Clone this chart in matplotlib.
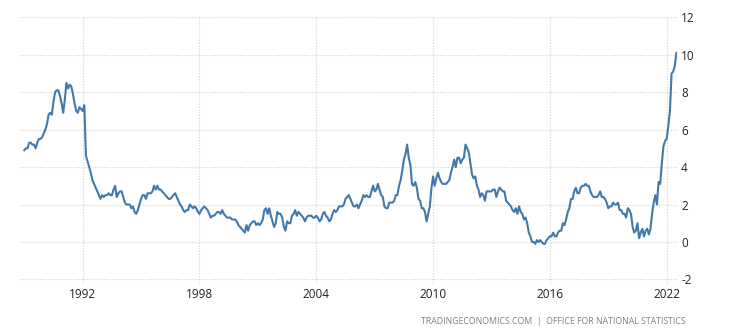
import numpy as np
import matplotlib
matplotlib.use("Agg")
import matplotlib.pyplot as plt

plt.rcParams["font.family"] = ["Open Sans", "DejaVu Sans"]

# UK CPI inflation rate, monthly, Jan 1989 - Jul 2022 (%)
start_year = 1989
cpi_by_year = {
    1989: [4.9, 5.0, 5.0, 5.3, 5.3, 5.2, 5.2, 5.0, 5.3, 5.5, 5.5, 5.6],
    1990: [5.8, 6.0, 6.3, 6.8, 6.9, 6.8, 7.5, 8.0, 8.1, 8.1, 7.8, 7.4],
    1991: [6.9, 7.6, 8.5, 8.2, 8.4, 8.3, 7.9, 7.4, 7.0, 6.9, 7.2, 7.1],
    1992: [7.0, 7.3, 4.6, 4.3, 4.0, 3.7, 3.3, 3.1, 2.9, 2.7, 2.5, 2.3],
    1993: [2.5, 2.4, 2.5, 2.5, 2.6, 2.5, 2.5, 2.8, 3.0, 2.4, 2.6, 2.7],
    1994: [2.7, 2.4, 2.1, 2.0, 2.0, 2.0, 1.8, 1.9, 1.6, 1.5, 1.7, 2.0],
    1995: [2.3, 2.5, 2.5, 2.3, 2.6, 2.6, 2.6, 2.7, 3.0, 2.8, 3.0, 2.8],
    1996: [2.8, 2.7, 2.6, 2.5, 2.4, 2.3, 2.3, 2.4, 2.5, 2.6, 2.4, 2.2],
    1997: [2.0, 1.9, 1.7, 1.6, 1.7, 1.7, 2.0, 1.9, 1.8, 1.9, 1.8, 1.6],
    1998: [1.5, 1.7, 1.8, 1.9, 1.8, 1.7, 1.5, 1.3, 1.4, 1.4, 1.5, 1.6],
    1999: [1.6, 1.5, 1.7, 1.5, 1.4, 1.3, 1.3, 1.3, 1.2, 1.2, 1.2, 1.1],
    2000: [0.9, 0.8, 0.7, 0.6, 0.5, 0.9, 0.6, 0.9, 1.0, 1.1, 1.1, 0.9],
    2001: [1.0, 0.9, 1.0, 1.2, 1.7, 1.8, 1.5, 1.8, 1.4, 1.1, 0.8, 1.0],
    2002: [1.6, 1.5, 1.5, 1.3, 0.8, 0.6, 1.1, 1.0, 1.0, 1.4, 1.5, 1.7],
    2003: [1.4, 1.6, 1.5, 1.4, 1.3, 1.1, 1.3, 1.4, 1.4, 1.4, 1.3, 1.3],
    2004: [1.4, 1.3, 1.1, 1.2, 1.5, 1.6, 1.4, 1.3, 1.1, 1.2, 1.5, 1.7],
    2005: [1.6, 1.7, 1.9, 1.9, 1.9, 2.0, 2.3, 2.4, 2.5, 2.3, 2.1, 1.9],
    2006: [1.9, 2.0, 1.8, 2.0, 2.2, 2.5, 2.4, 2.5, 2.4, 2.4, 2.7, 3.0],
    2007: [2.7, 2.8, 3.1, 2.8, 2.5, 2.4, 1.9, 1.8, 1.8, 2.1, 2.1, 2.1],
    2008: [2.2, 2.5, 2.5, 3.0, 3.3, 3.8, 4.4, 4.7, 5.2, 4.5, 4.1, 3.1],
    2009: [3.0, 3.2, 2.9, 2.3, 2.2, 1.8, 1.8, 1.6, 1.1, 1.5, 1.9, 2.9],
    2010: [3.5, 3.0, 3.4, 3.7, 3.4, 3.2, 3.1, 3.1, 3.1, 3.2, 3.3, 3.7],
    2011: [4.0, 4.4, 4.0, 4.5, 4.5, 4.2, 4.4, 4.5, 5.2, 5.0, 4.8, 4.2],
    2012: [3.6, 3.4, 3.5, 3.0, 2.8, 2.4, 2.6, 2.5, 2.2, 2.7, 2.7, 2.7],
    2013: [2.7, 2.8, 2.8, 2.4, 2.7, 2.9, 2.8, 2.7, 2.7, 2.2, 2.1, 2.0],
    2014: [1.9, 1.7, 1.6, 1.8, 1.5, 1.9, 1.6, 1.5, 1.2, 1.3, 1.0, 0.5],
    2015: [0.3, 0.0, 0.0, -0.1, 0.1, 0.0, 0.1, 0.0, -0.1, -0.1, 0.1, 0.2],
    2016: [0.3, 0.3, 0.5, 0.3, 0.3, 0.5, 0.6, 0.6, 1.0, 0.9, 1.2, 1.6],
    2017: [1.8, 2.3, 2.3, 2.7, 2.9, 2.6, 2.6, 2.9, 3.0, 3.0, 3.1, 3.0],
    2018: [3.0, 2.7, 2.5, 2.4, 2.4, 2.4, 2.5, 2.7, 2.4, 2.4, 2.3, 2.1],
    2019: [1.8, 1.9, 1.9, 2.1, 2.0, 2.0, 2.1, 1.7, 1.7, 1.5, 1.5, 1.3],
    2020: [1.8, 1.7, 1.5, 0.8, 0.5, 0.6, 1.0, 0.2, 0.5, 0.7, 0.3, 0.6],
    2021: [0.7, 0.4, 0.7, 1.5, 2.1, 2.5, 2.0, 3.2, 3.1, 4.2, 5.1, 5.4],
    2022: [5.5, 6.2, 7.0, 9.0, 9.1, 9.4, 10.1],
}

x_ticks = [1992, 1998, 2004, 2010, 2016, 2022]
y_ticks = [-2, 0, 2, 4, 6, 8, 10, 12]
source_text = "TRADINGECONOMICS.COM  |  OFFICE FOR NATIONAL STATISTICS"

dates = []
values = []
for yr, vals in cpi_by_year.items():
    for m, v in enumerate(vals):
        dates.append(yr + m / 12.0)
        values.append(v)

W, H = 738, 336
fig = plt.figure(figsize=(W / 100, H / 100), dpi=100)
ax = fig.add_axes([20 / W, 1 - 285 / H, (677 - 20) / W, (285 - 17.3) / H])

ax.plot(dates, values, color="#4279ab", linewidth=1.5, solid_joinstyle="round", zorder=3)

ax.set_xlim(1988.78, 2022.53)
ax.set_ylim(-2.30, 12.0)
ax.set_xticks(x_ticks)
ax.set_xticklabels([str(t) for t in x_ticks])
ax.set_yticks(y_ticks)
ax.set_yticklabels([str(t) for t in y_ticks])
ax.yaxis.tick_right()

for s in ax.spines.values():
    s.set_visible(False)

ax.grid(True, which="major", axis="both", color="#d2d2d2", linestyle=(0, (1, 1.5)), linewidth=0.8, zorder=0)
ax.tick_params(axis="both", length=0, labelsize=8.5, colors="#222222")
ax.tick_params(axis="y", pad=3)
ax.tick_params(axis="x", pad=2)

fig.text(686 / W, 1 - 322 / H, source_text, ha="right", va="center",
         fontsize=6.3, color="#808080")

fig.savefig("out.png", dpi=100, facecolor="white")
